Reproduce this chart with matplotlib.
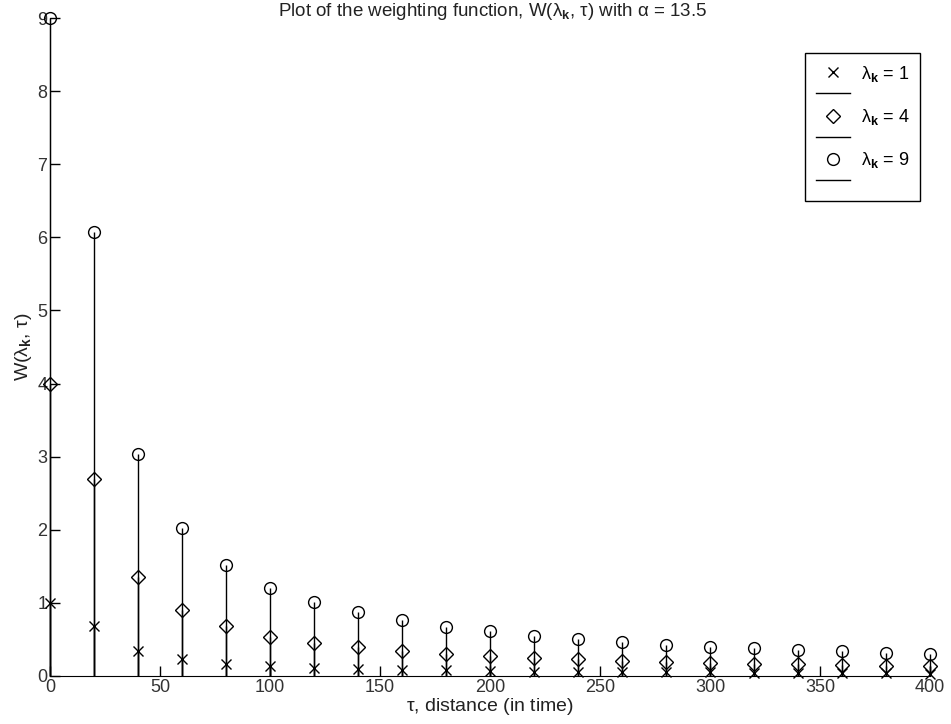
import numpy as np
import matplotlib.pyplot as plt
from matplotlib.lines import Line2D

plt.rcParams['font.family'] = ['Liberation Sans', 'DejaVu Sans']
plt.rcParams['mathtext.fontset'] = 'custom'
plt.rcParams['mathtext.rm'] = 'Liberation Sans'
plt.rcParams['mathtext.it'] = 'Liberation Sans'
plt.rcParams['mathtext.bf'] = 'Liberation Sans:bold'

# tau, distance (in time)
tau = [0, 20, 40, 60, 80, 100, 120, 140, 160, 180, 200,
       220, 240, 260, 280, 300, 320, 340, 360, 380, 400]

# W(lambda_k, tau)
w_lam1 = [1.00, 0.68, 0.34, 0.23, 0.17, 0.14, 0.11, 0.10, 0.08, 0.08, 0.07,
          0.06, 0.06, 0.05, 0.05, 0.05, 0.04, 0.04, 0.04, 0.04, 0.03]
w_lam4 = [4.00, 2.70, 1.35, 0.90, 0.68, 0.54, 0.45, 0.39, 0.34, 0.30, 0.27,
          0.25, 0.23, 0.21, 0.19, 0.18, 0.17, 0.16, 0.15, 0.14, 0.14]
w_lam9 = [9.00, 6.07, 3.03, 2.02, 1.52, 1.21, 1.01, 0.87, 0.76, 0.67, 0.61,
          0.55, 0.51, 0.47, 0.43, 0.40, 0.38, 0.36, 0.34, 0.32, 0.30]

series = [(w_lam1, 'x', 6.5, r'$\lambda_\mathbf{k}$ = 1'),
          (w_lam4, 'D', 7, r'$\lambda_\mathbf{k}$ = 4'),
          (w_lam9, 'o', 8.5, r'$\lambda_\mathbf{k}$ = 9')]

fig = plt.figure(figsize=(9.51, 7.24), dpi=100)
ax = fig.add_axes([0.0526, 0.0663, 0.9254, 0.9088])

handles, labels = [], []
for vals, mk, ms, lab in series:
    ax.vlines(tau, 0, vals, color='k', lw=1.0, clip_on=False)
    ax.plot(tau, vals, ls='none', marker=mk, ms=ms, mfc='none', mec='k',
            mew=1.0, clip_on=False, zorder=3)
    handles.append(Line2D([], [], ls='none', marker=mk, ms=ms, mfc='none',
                          mec='k', mew=1.0))
    labels.append(lab)
    handles.append(Line2D([], [], color='k', lw=1.0))
    labels.append('')

ax.set_xlim(0, 400)
ax.set_ylim(0, 9)
ax.set_xticks(np.arange(0, 401, 50))
ax.set_yticks(np.arange(0, 10, 1))
ax.spines['top'].set_visible(False)
ax.spines['right'].set_visible(False)
ax.tick_params(direction='in', length=7, width=1, labelsize=13,
               labelcolor='#333333', pad=2)

# title sits right at the top edge in the reference
fig.text(0.518, 1 - 12 / 724,
         r'Plot of the weighting function, W($\lambda_\mathbf{k}$, $\tau$) with $\alpha$ = 13.5',
         fontsize=13.5, ha='center', va='center', color='#222222')
ax.set_xlabel(r'$\tau$, distance (in time)', fontsize=14, labelpad=0, color='#222222')
ax.set_ylabel(r'W($\lambda_\mathbf{k}$, $\tau$)', fontsize=14, labelpad=2, color='#222222')

leg = ax.legend(handles, labels, loc='upper right', bbox_to_anchor=(0.989, 0.947),
                borderaxespad=0, fancybox=False, edgecolor='k', framealpha=1,
                fontsize=13, handlelength=1.9, handletextpad=0.6,
                labelspacing=0.17, borderpad=0.6)
leg.get_frame().set_linewidth(1.0)

fig.savefig('out.png', dpi=100)
